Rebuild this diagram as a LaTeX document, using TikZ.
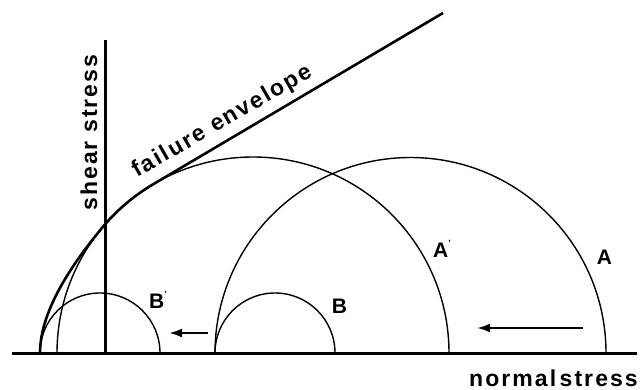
\documentclass[tikz,border=0pt]{standalone}
\usepackage{fontspec}
\setmainfont{Liberation Sans}
\newfontfamily\lblfont[LetterSpace=9]{Liberation Sans}
\usetikzlibrary{arrows.meta}
\begin{document}
\begin{tikzpicture}[x=1pt,y=1pt,
  axis/.style={line width=3pt},
  circ/.style={line width=1.4pt},
  env/.style={line width=2.6pt},
  push/.style={line width=2.4pt,-{Latex[length=13pt,width=9pt]}},
  lbl/.style={font=\lblfont\fontsize{23}{25}\selectfont\bfseries, inner sep=0pt},
  letter/.style={font=\fontsize{21}{23}\selectfont\bfseries, inner sep=0pt}]
\useasboundingbox (0,0) rectangle (640,389);
% axes
\coordinate (h1) at (12,36);
\coordinate (h2) at (637,36);
\coordinate (v1) at (105,36);
\coordinate (v2) at (105,349);
\draw[axis] (h1) -- (h2);
\draw[axis] (v1) -- (v2);
% Mohr circles
\draw[circ] (606,36) arc[start angle=0,end angle=180,radius=195.5pt];
\draw[circ] (449,36) arc[start angle=0,end angle=180,radius=196pt];
\draw[circ] (335,36) arc[start angle=0,end angle=180,radius=60pt];
\draw[circ] (160,36) arc[start angle=0,end angle=180,radius=60pt];
% failure envelope
\coordinate (e1) at (443,376);
\coordinate (e2) at (153.1,204.7);
\coordinate (e4) at (40,36);
\draw[env] (e1) -- (e2) arc[start angle=120.6,end angle=140,radius=196pt]
  .. controls (84,139) and (40,85) .. (e4);
% arrows
\coordinate (a1) at (583,61);
\coordinate (a2) at (477,61);
\coordinate (b1) at (208,56);
\coordinate (b2) at (169,56);
\draw[push] (a1) -- (a2);
\draw[push] (b1) -- (b2);
% labels
\node[letter] (lA) at (604.5,131.5) {A};
\node[letter] (lAp) at (442,140) {A\raisebox{0.55em}{\fontsize{9}{9}\selectfont'}};
\node[letter] (lB) at (339.5,82.5) {B};
\node[letter] (lBp) at (158,89) {B\raisebox{0.55em}{\fontsize{9}{9}\selectfont'}};
\node[lbl, anchor=base east] (ns) at (638,3) {normal\hspace{0.15em}stress};
\node[lbl, rotate=90, anchor=base west] (ss) at (97,178) {shear stress};
\node[lbl, rotate=30, anchor=base west] (fe) at (137,211) {failure envelope};
\end{tikzpicture}
\end{document}
